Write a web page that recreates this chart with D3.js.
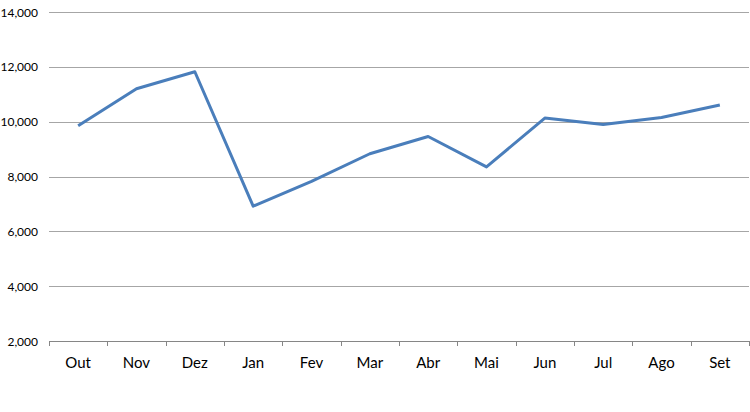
<!DOCTYPE html>
<html><head><meta charset="utf-8">
<script src="https://cdn.jsdelivr.net/npm/d3@7"></script>
<style>body{margin:0;background:#fff;} svg text{font-family:Lato,sans-serif;fill:#000;}</style>
</head><body><svg id="c" width="750" height="412"></svg>
<script>
const months = ["Out","Nov","Dez","Jan","Fev","Mar","Abr","Mai","Jun","Jul","Ago","Set"];
const values = [9850,11200,11820,6920,7820,8830,9460,8350,10130,9900,10150,10610];
const yTicks = [2000,4000,6000,8000,10000,12000,14000];

(function(){
const svg = d3.select("#c");
const pL = 49, pR = 749, pT = 12, pB = 341;
const x = d3.scaleBand().domain(months).range([pL, pR]);
const y = d3.scaleLinear().domain([2000,14000]).range([pB, pT]);

svg.append("g").selectAll("line").data(yTicks.filter(d=>d>2000)).join("line")
  .attr("x1", pL).attr("x2", pR)
  .attr("y1", d=>Math.round(y(d))+0.5).attr("y2", d=>Math.round(y(d))+0.5)
  .attr("stroke", "#a6a6a6").attr("stroke-width", 1);

svg.append("g").selectAll("text").data(yTicks).join("text")
  .attr("x", 38).attr("y", d=>y(d)+4.5).attr("text-anchor","end")
  .style("font-size","12px")
  .text(d=>d3.format(",")(d));

svg.append("line").attr("x1", pL).attr("x2", pR)
  .attr("y1", pB+0.5).attr("y2", pB+0.5).attr("stroke","#868686");
const bounds = months.map(m=>x(m)).concat([pR]);
svg.append("g").selectAll("line").data(bounds).join("line")
  .attr("x1", d=>Math.round(d)+0.5).attr("x2", d=>Math.round(d)+0.5)
  .attr("y1", pB).attr("y2", pB+5).attr("stroke","#868686");

svg.append("g").selectAll("text").data(months).join("text")
  .attr("x", d=>x(d)+x.bandwidth()/2).attr("y", 368).attr("text-anchor","middle")
  .style("font-size","15px")
  .text(d=>d);

const line = d3.line().x((d,i)=>x(months[i])+x.bandwidth()/2).y(d=>y(d));
svg.append("path").datum(values).attr("d", line)
  .attr("fill","none").attr("stroke","#4a7ebb").attr("stroke-width",3)
  .attr("stroke-linejoin","round");
})();
</script></body></html>
